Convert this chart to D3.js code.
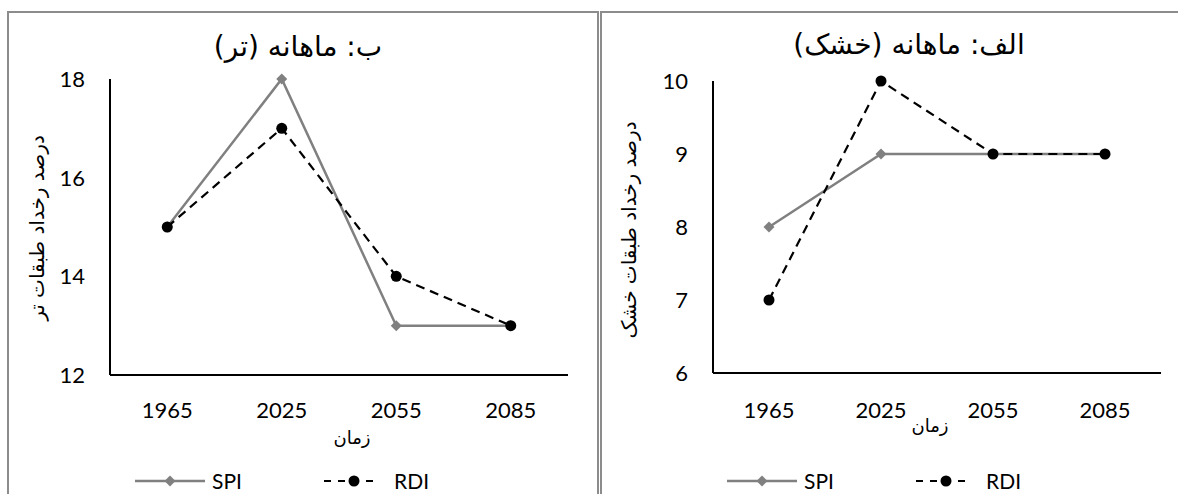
<!DOCTYPE html>
<html><head><meta charset="utf-8">
<script src="https://cdn.jsdelivr.net/npm/d3@7"></script>
<style>
body{margin:0;background:#fff;}
text{font-family:Lato,"DejaVu Sans",sans-serif;}
.fa{font-family:"DejaVu Sans",sans-serif;}
</style></head>
<body><svg id="c" width="1178" height="494"></svg>
<script>
const years = ["1965","2025","2055","2085"];
const wetSPI = [15,18,13,13];
const wetRDI = [15,17,14,13];
const drySPI = [8,9,9,9];
const dryRDI = [7,10,9,9];
const wetTicks = [12,14,16,18];
const dryTicks = [6,7,8,9,10];

const svg = d3.select("#c");

svg.append("rect").attr("x",8).attr("y",12).attr("width",590).attr("height",500)
  .attr("fill","none").attr("stroke","#8c8c8c").attr("stroke-width",2);
svg.append("rect").attr("x",601).attr("y",12).attr("width",580).attr("height",500)
  .attr("fill","none").attr("stroke","#8c8c8c").attr("stroke-width",2);

function panel(cfg){
  const x = d3.scaleBand().domain(years).range([cfg.x0, cfg.x1]);
  const y = d3.scaleLinear().domain(cfg.domain).range([cfg.yb, cfg.yt]);
  const g = svg.append("g");
  g.append("line").attr("x1",cfg.x0).attr("x2",cfg.x0).attr("y1",cfg.yt).attr("y2",cfg.yb)
    .attr("stroke","#000").attr("stroke-width",2);
  g.append("line").attr("x1",cfg.x0).attr("x2",cfg.x1).attr("y1",cfg.yb).attr("y2",cfg.yb)
    .attr("stroke","#000").attr("stroke-width",2);
  g.selectAll(".yt").data(cfg.ticks).join("text")
    .attr("x",cfg.ylabX).attr("y",d=>y(d)).attr("dy","0.36em")
    .attr("text-anchor","end").attr("font-size",22).attr("fill","#000").text(d=>d);
  g.selectAll(".xt").data(years).join("text")
    .attr("x",d=>x(d)+x.bandwidth()/2).attr("y",cfg.xlabY)
    .attr("text-anchor","middle").attr("font-size",22).attr("fill","#000").text(d=>d);
  g.append("text").attr("class","fa").attr("x",cfg.titleX).attr("y",cfg.titleY).attr("text-anchor","middle")
    .attr("font-size",28).attr("fill","#000").text(cfg.title);
  g.append("text").attr("class","fa").attr("x",cfg.xtX).attr("y",cfg.xtY).attr("text-anchor","middle")
    .attr("font-size",18).attr("fill","#000").text("زمان");
  g.append("text").attr("class","fa").attr("transform",`translate(${cfg.ytX},${cfg.ytY}) rotate(-90)`)
    .attr("text-anchor","middle").attr("font-size",20).attr("fill","#000").text(cfg.ytitle);

  const cx = d=>x(d)+x.bandwidth()/2;
  const line = d3.line().x((d,i)=>cx(years[i])).y(d=>y(d));
  g.append("path").attr("d",line(cfg.spi)).attr("fill","none")
    .attr("stroke","#808080").attr("stroke-width",2.5);
  g.selectAll(".sm").data(cfg.spi).join("path")
    .attr("d",d3.symbol(d3.symbolSquare,60))
    .attr("transform",(d,i)=>`translate(${cx(years[i])},${y(d)}) rotate(45)`)
    .attr("fill","#808080");
  g.append("path").attr("d",line(cfg.rdi)).attr("fill","none")
    .attr("stroke","#000").attr("stroke-width",2.2).attr("stroke-dasharray","9,6");
  g.selectAll(".rm").data(cfg.rdi).join("circle")
    .attr("cx",(d,i)=>cx(years[i])).attr("cy",d=>y(d)).attr("r",5.5).attr("fill","#000");

  const ly = cfg.legY;
  g.append("line").attr("x1",cfg.legX).attr("x2",cfg.legX+70).attr("y1",ly).attr("y2",ly)
    .attr("stroke","#808080").attr("stroke-width",2.5);
  g.append("path").attr("d",d3.symbol(d3.symbolSquare,60)())
    .attr("transform",`translate(${cfg.legX+35},${ly}) rotate(45)`).attr("fill","#808080");
  g.append("text").attr("x",cfg.legX+77).attr("y",ly).attr("dy","0.36em")
    .attr("font-size",21).attr("fill","#000").text("SPI");
  const rx = cfg.legX+189;
  g.append("line").attr("x1",rx).attr("x2",rx+54).attr("y1",ly).attr("y2",ly)
    .attr("stroke","#000").attr("stroke-width",2.2).attr("stroke-dasharray","7,7");
  g.append("circle").attr("cx",rx+30).attr("cy",ly).attr("r",5.5).attr("fill","#000");
  g.append("text").attr("x",rx+70).attr("y",ly).attr("dy","0.36em")
    .attr("font-size",21).attr("fill","#000").text("RDI");
}

panel({x0:110,x1:568,yt:79,yb:375,domain:[12,18],ticks:wetTicks,spi:wetSPI,rdi:wetRDI,
  ylabX:85,xlabY:418,title:"ب: ماهانه (تر)",titleX:298,titleY:56,xtX:352,xtY:444,
  ytitle:"درصد رخداد طبقات تر",ytX:44,ytY:228,legX:135,legY:481});
panel({x0:713,x1:1161,yt:81,yb:373,domain:[6,10],ticks:dryTicks,spi:drySPI,rdi:dryRDI,
  ylabX:688,xlabY:418,title:"الف: ماهانه (خشک)",titleX:909,titleY:54,xtX:930,xtY:432,
  ytitle:"درصد رخداد طبقات خشک",ytX:636,ytY:230,legX:727,legY:481});
</script></body></html>
